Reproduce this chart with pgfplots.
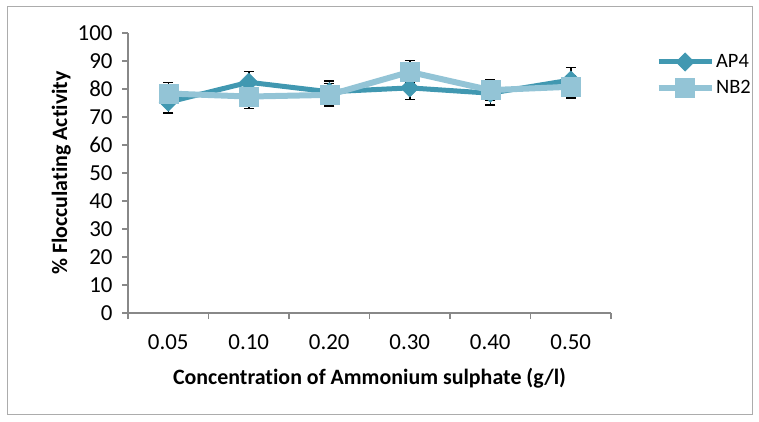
\documentclass[border=0pt]{standalone}
\usepackage{fontspec}
\setmainfont{Carlito}[Ligatures={NoCommon}]
\usepackage{pgfplots}
\pgfplotsset{compat=1.18}
\definecolor{apc}{HTML}{4198B1}
\definecolor{nbc}{HTML}{93C4D6}
\definecolor{axc}{HTML}{888888}
\begin{document}
\begin{tikzpicture}[x=1bp,y=1bp]
\path (0,0) rectangle (759,421);
\draw[color=axc!70, line width=1bp] (7,7) rectangle (752,414);
\begin{axis}[
  at={(128bp,108bp)}, anchor=origin,
  scale only axis, width=483bp, height=280bp,
  xmin=0.5, xmax=6.5, ymin=0, ymax=100,
  axis x line*=bottom, axis y line*=left,
  axis line style={color=axc, line width=1.2bp, -},
  xtick={1,...,6},
  xticklabels={0.05,0.10,0.20,0.30,0.40,0.50},
  major x tick style={draw=none},
  minor xtick={0.5,1.5,...,6.5},
  minor x tick style={color=axc, line width=1.2bp},
  ytick={0,10,...,100},
  y tick style={color=axc, line width=1.2bp},
  tick align=outside,
  major tick length=6bp, minor tick length=6bp,
  tick label style={font=\fontsize{23}{26}\selectfont},
  /pgf/number format/assume math mode=true,
  xticklabel style={yshift=-12bp},
  yticklabel style={xshift=-6bp},
  xlabel={\bfseries Concentration of Ammonium sulphate (g/l)},
  ylabel={\bfseries \% Flocculating Activity},
  label style={font=\fontsize{22}{25}\selectfont},
  xlabel style={yshift=-12bp},
  ylabel style={yshift=0bp},
  legend style={at={(1.092,0.93)}, anchor=north west, draw=none, fill=none,
    font=\fontsize{20.5}{24}\selectfont, row sep=7bp, inner sep=0pt,
    nodes={inner sep=1.5bp}},
  legend cell align=left,
  legend image code/.code={
    \draw (0bp,0bp) -- (53bp,0bp);
    \path plot coordinates {(26.5bp,0bp)};
  },
  clip=false,
]
\addplot[color=apc, line width=5bp, mark=square*, mark size=6.5bp,
  mark options={rotate=45, line width=0.5bp, fill=apc},
  error bars/.cd, y dir=both, y explicit,
  error mark options={black, line width=1.5bp, mark size=5bp, rotate=90},
  error bar style={black, line width=1.5bp}]
  coordinates {
  (1,75.3) +- (0,3.9)
  (2,82.4) +- (0,3.8)
  (3,79.0) +- (0,3.9)
  (4,80.4) +- (0,4.1)
  (5,78.5) +- (0,4.2)
  (6,83.2) +- (0,4.5)
  };
\addlegendentry{AP4}
\addplot[color=nbc, line width=6bp, mark=square*, mark size=9.5bp,
  mark options={line width=0.5bp, fill=nbc},
  error bars/.cd, y dir=both, y explicit,
  error mark options={black, line width=1.5bp, mark size=5bp, rotate=90},
  error bar style={black, line width=1.5bp}]
  coordinates {
  (1,78.4) +- (0,3.9)
  (2,77.3) +- (0,4.2)
  (3,77.9) +- (0,4.0)
  (4,86.1) +- (0,4.0)
  (5,79.6) +- (0,3.6)
  (6,80.8) +- (0,4.1)
  };
\addlegendentry{NB2}
\end{axis}
\end{tikzpicture}
\end{document}
